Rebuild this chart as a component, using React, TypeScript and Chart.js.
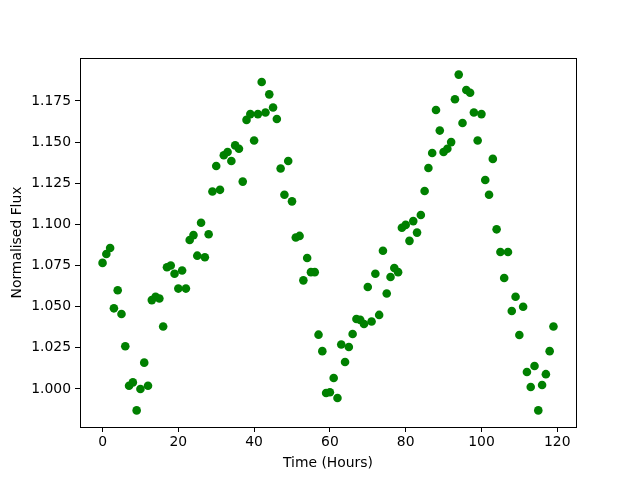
import React, { useEffect, useRef } from "react";
import { Chart, registerables } from "chart.js";

Chart.register(...registerables);

const hours: number[] = Array.from({ length: 120 }, (_, i) => i);
const flux: number[] = [
  1.0766, 1.082, 1.0857, 1.049, 1.06, 1.0456, 1.026, 1.002, 1.004, 0.987,
  1.0, 1.016, 1.002, 1.054, 1.056, 1.055, 1.038, 1.074, 1.075, 1.07,
  1.061, 1.072, 1.061, 1.0905, 1.0935, 1.081, 1.101, 1.08, 1.094, 1.12,
  1.1355, 1.121, 1.142, 1.144, 1.1385, 1.148, 1.146, 1.126, 1.1635, 1.167,
  1.151, 1.167, 1.1865, 1.168, 1.179, 1.171, 1.164, 1.134, 1.118, 1.1385,
  1.114, 1.092, 1.093, 1.066, 1.0796, 1.071, 1.071, 1.033, 1.023, 0.9976,
  0.998, 1.0067, 0.9945, 1.027, 1.0164, 1.0255, 1.0334, 1.0425, 1.042, 1.0395,
  1.062, 1.041, 1.07, 1.045, 1.084, 1.058, 1.068, 1.0735, 1.071, 1.098,
  1.0997, 1.09, 1.102, 1.095, 1.1057, 1.1203, 1.1343, 1.1434, 1.1695, 1.157,
  1.144, 1.146, 1.15, 1.176, 1.191, 1.1616, 1.1817, 1.18, 1.168, 1.151,
  1.167, 1.127, 1.118, 1.1398, 1.097, 1.0832, 1.0674, 1.0832, 1.0474, 1.056,
  1.0328, 1.05, 1.0103, 1.0012, 1.014, 0.987, 1.0024, 1.009, 1.023, 1.038,
];

const xTicks: number[] = [0, 20, 40, 60, 80, 100, 120];
const yTicks: number[] = [1.0, 1.025, 1.05, 1.075, 1.1, 1.125, 1.15, 1.175];

const xLabel = "Time (Hours)";
const yLabel = "Normalised Flux";

const frame = {
  id: "frame",
  afterDraw(chart: any) {
    const { ctx, chartArea: a } = chart;
    ctx.save();
    ctx.strokeStyle = "#000";
    ctx.lineWidth = 1;
    ctx.strokeRect(a.left + 0.5, a.top + 0.5, a.right - a.left, a.bottom - a.top);
    ctx.restore();
  },
};

export default function App() {
  const ref = useRef<HTMLCanvasElement>(null);
  useEffect(() => {
    if (!ref.current) return;
    const font = { family: "DejaVu Sans", size: 13.9 };
    const chart = new Chart(ref.current, {
      type: "scatter",
      data: {
        datasets: [
          {
            data: hours.map((h, i) => ({ x: h, y: flux[i] })),
            backgroundColor: "#008000",
            borderColor: "#008000",
            borderWidth: 0,
            pointRadius: 4.3,
          },
        ],
      },
      options: {
        responsive: false,
        animation: false,
        layout: { padding: { left: 0, top: 58, right: 64, bottom: 0 } },
        plugins: { legend: { display: false }, tooltip: { enabled: false } },
        scales: {
          x: {
            type: "linear",
            min: -5.95,
            max: 124.95,
            afterFit: (s: any) => { s.height = 53; },
            afterBuildTicks: (s: any) => {
              s.ticks = xTicks.map((v) => ({ value: v }));
            },
            ticks: { color: "#000", font, padding: 2, maxRotation: 0 },
            grid: { display: true, drawOnChartArea: false, drawTicks: true, tickLength: 5, color: "#000" },
            border: { display: true, color: "#000" },
            title: { display: true, text: xLabel, color: "#000", font, padding: { top: 0, bottom: 8.5 } },
          },
          y: {
            type: "linear",
            min: 0.9769,
            max: 1.2011,
            afterFit: (s: any) => { s.width = 80; },
            afterBuildTicks: (s: any) => {
              s.ticks = yTicks.map((v) => ({ value: v }));
            },
            ticks: {
              color: "#000",
              font,
              padding: 4,
              callback: (v: any) => Number(v).toFixed(3),
            },
            grid: { display: true, drawOnChartArea: false, drawTicks: true, tickLength: 5, color: "#000" },
            border: { display: true, color: "#000" },
            title: { display: true, text: yLabel, color: "#000", font, padding: { top: 8.7, bottom: 0 } },
          },
        },
      },
      plugins: [frame],
    });
    return () => chart.destroy();
  }, []);
  return (
    <div style={{ position: "fixed", left: 0, top: 0, width: 640, height: 480, background: "#fff" }}>
      <canvas ref={ref} width={640} height={480} style={{ width: 640, height: 480 }} />
    </div>
  );
}
